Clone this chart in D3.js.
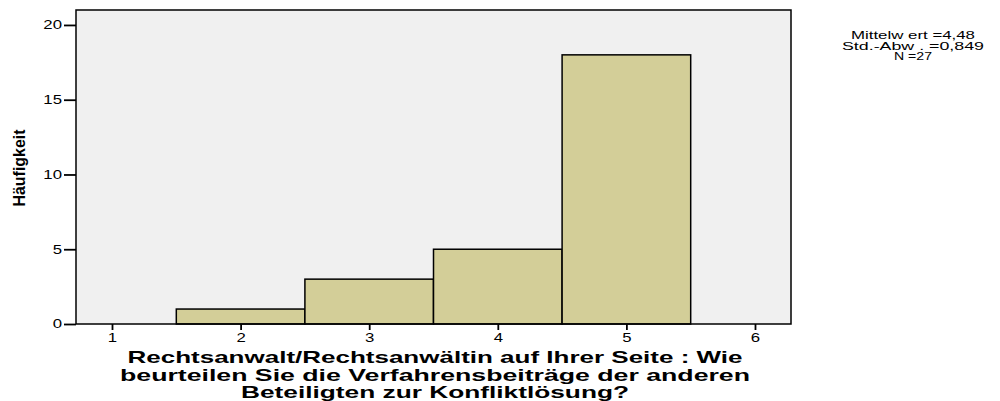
<!DOCTYPE html>
<html><head><meta charset="utf-8">
<script src="https://cdn.jsdelivr.net/npm/d3@7"></script>
<style>body{margin:0;background:#fff}svg{display:block}text{font-family:"Liberation Sans",Arial,sans-serif}</style>
</head><body>
<svg id="c" width="1000" height="401"></svg>
<script>
const binCenters = [1, 2, 3, 4, 5];
const counts = [0, 1, 3, 5, 18];
const xTicks = [1, 2, 3, 4, 5, 6];
const yTicks = [0, 5, 10, 15, 20];
const statsLines = ["Mittelw ert =4,48", "Std.-Abw . =0,849", "N =27"];
const statsWidths = [124, 142, 38];
const yTitle = "Häufigkeit";
const xTitleLines = ["Rechtsanwalt/Rechtsanwältin auf Ihrer Seite : Wie", "beurteilen Sie die Verfahrensbeiträge der anderen", "Beteiligten zur Konfliktlösung?"];
const xTitleWidths = [615, 630, 388];

const svg = d3.select("#c");
const L = 76, R = 791, T = 10, B = 324;
const x = d3.scaleLinear().domain([0.72, 6.28]).range([L, R]);
const y = d3.scaleLinear().domain([0, 21]).range([B, T]);

svg.append("rect").attr("x", L).attr("y", T).attr("width", R - L).attr("height", B - T).attr("fill", "#f0f0f0");

svg.selectAll("rect.bar").data(binCenters.map((c, i) => ({c, v: counts[i]})).filter(d => d.v > 0))
  .enter().append("rect").attr("class", "bar")
  .attr("x", d => x(d.c - 0.5)).attr("width", d => x(d.c + 0.5) - x(d.c - 0.5))
  .attr("y", d => y(d.v)).attr("height", d => y(0) - y(d.v))
  .attr("fill", "#d3ce98").attr("stroke", "#000").attr("stroke-width", 1.5);

svg.append("rect").attr("x", L).attr("y", T).attr("width", R - L).attr("height", B - T)
  .attr("fill", "none").attr("stroke", "#000").attr("stroke-width", 1.5);

const yAxis = svg.append("g").attr("transform", `translate(${L},0)`)
  .call(d3.axisLeft(y).tickValues(yTicks).tickFormat(d3.format("d")).tickSize(12).tickPadding(2));
yAxis.select(".domain").remove();
yAxis.selectAll("line").attr("stroke-width", 1.8);
yAxis.selectAll("text").attr("font-size", 12).attr("fill", "#000")
  .attr("transform", "translate(-14,0) scale(1.4,1) translate(14,0)");

const xAxis = svg.append("g").attr("transform", `translate(0,${B})`)
  .call(d3.axisBottom(x).tickValues(xTicks).tickFormat(d3.format("d")).tickSize(6).tickPadding(3));
xAxis.select(".domain").remove();
xAxis.selectAll("line").attr("stroke-width", 1.8);
xAxis.selectAll("text").attr("font-size", 12).attr("fill", "#000")
  .attr("transform", "scale(1.4,1)");

svg.append("text").attr("transform", "translate(25,168) rotate(-90)")
  .attr("text-anchor", "middle").attr("font-family", "'Liberation Sans Narrow','Liberation Sans',sans-serif")
  .attr("font-weight", "bold").attr("font-size", 17).attr("textLength", 77).attr("lengthAdjust", "spacingAndGlyphs")
  .text(yTitle);

xTitleLines.forEach((t, i) => {
  svg.append("text").attr("x", 435).attr("y", 363 + i * 17.5).attr("text-anchor", "middle")
    .attr("font-weight", "bold").attr("font-size", 17)
    .attr("textLength", xTitleWidths[i]).attr("lengthAdjust", "spacingAndGlyphs").text(t);
});

statsLines.forEach((t, i) => {
  svg.append("text").attr("x", 913).attr("y", 39 + i * 10.5).attr("text-anchor", "middle")
    .attr("font-size", 11).attr("textLength", statsWidths[i]).attr("lengthAdjust", "spacingAndGlyphs").text(t);
});
</script>
</body></html>
